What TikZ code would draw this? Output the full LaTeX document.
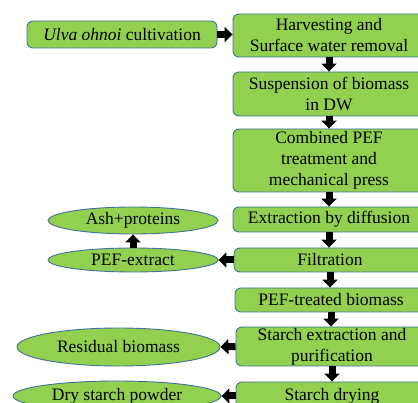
\documentclass[tikz,border=0pt]{standalone}
\usepackage{fontspec}
\setmainfont{Liberation Serif}
\usetikzlibrary{shapes.geometric,arrows.meta}
\definecolor{boxgreen}{HTML}{92D050}
\definecolor{boxedge}{HTML}{41719C}
\begin{document}
\begin{tikzpicture}[x=1pt,y=-1pt,
  every node/.style={font=\fontsize{17.5}{21}\selectfont},
  procbox/.style={draw=boxedge, fill=boxgreen, line width=0.9pt, rounded corners=6pt,
    minimum width=192pt, inner sep=0pt, align=center},
  prodell/.style={ellipse, draw=boxedge, fill=boxgreen, line width=0.9pt, inner sep=0pt},
  blockarrow/.style={line width=7pt, -{Triangle[width=15pt,length=8pt]}, black}]
\useasboundingbox (0,0) rectangle (418,403);
\begin{scope}
\clip (0,0) rectangle (418,403);
\node[procbox, minimum width=190pt, minimum height=27pt] (ulva) at (122,34.5) {\textit{Ulva ohnoi} cultivation};
\node[procbox, minimum height=43pt] (harv) at (329,35.5) {Harvesting and\\Surface water removal};
\node[procbox, minimum height=44pt] (susp) at (329,94) {Suspension of biomass\\in DW};
\node[procbox, minimum height=63pt] (comb) at (329,160.5) {Combined PEF\\treatment and\\mechanical press};
\node[procbox, minimum height=25pt] (extr) at (329,219.5) {Extraction by diffusion};
\node[procbox, minimum height=24pt] (filt) at (330,260) {Filtration};
\node[procbox, minimum height=24pt] (pefb) at (331,300) {PEF-treated biomass};
\node[procbox, minimum height=39pt] (star) at (332,346.5) {Starch extraction and\\purification};
\node[procbox, minimum height=28pt] (sdry) at (332,396) {Starch drying};

\node[prodell, minimum width=170pt, minimum height=27pt] (ash) at (133,220.5) {Ash+proteins};
\node[prodell, minimum width=170pt, minimum height=24pt] (pefx) at (133,260) {PEF-extract};
\node[prodell, minimum width=203pt, minimum height=38pt] (resid) at (118.5,347) {Residual biomass};
\node[prodell, minimum width=208pt, minimum height=30pt] (dpow) at (117,396) {Dry starch powder};

\draw[blockarrow] (ulva.east) -- (ulva.east -| harv.west);
\draw[blockarrow] (harv.south) -- (harv.south |- susp.north);
\draw[blockarrow] (susp.south) -- (susp.south |- comb.north);
\draw[blockarrow] (comb.south) -- (comb.south |- extr.north);
\draw[blockarrow] (extr.south) -- (extr.south |- filt.north);
\draw[blockarrow] (filt.south) -- (filt.south |- pefb.north);
\draw[blockarrow] (pefb.south) -- (pefb.south |- star.north);
\draw[blockarrow] (star.south) -- (star.south |- sdry.north);
\draw[blockarrow] (filt.west) -- (pefx.east);
\draw[blockarrow] (pefx.north) -- (ash.south);
\draw[blockarrow] (star.west) -- (resid.east);
\draw[blockarrow] (sdry.west) -- (dpow.east);
\end{scope}
\end{tikzpicture}
\end{document}
